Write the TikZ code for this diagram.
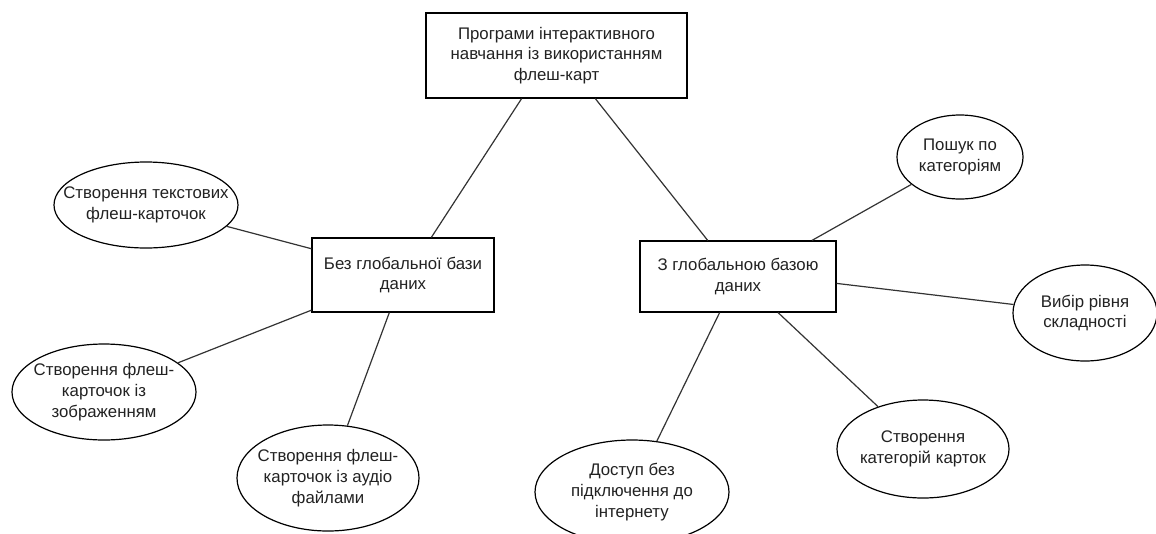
\documentclass[tikz,border=0pt]{standalone}
\usepackage{fontspec}
\setmainfont{Liberation Sans}
\usetikzlibrary{shapes.geometric}
\definecolor{txtc}{HTML}{222222}
\definecolor{linec}{HTML}{333333}
\begin{document}
\begin{tikzpicture}[x=0.75pt,y=-0.75pt,
  txt/.style={align=center, text=txtc, font=\fontsize{12.6}{15.5}\selectfont, inner sep=0pt},
  box/.style={draw=black, line width=0.9pt, rectangle, inner sep=0pt, txt},
  ell/.style={draw=black, line width=0.9pt, ellipse, inner sep=0pt},
  conn/.style={draw=linec, line width=0.9pt}
]
\useasboundingbox (0,0) rectangle (1156,533);
\fill[white] (0,0) rectangle (1156,533);

\node[box, minimum width=195.75pt, minimum height=63.75pt] (top) at (556.5,55.5)
  {Програми інтерактивного\\навчання із використанням\\флеш-карт};
\node[box, minimum width=136.5pt, minimum height=55.5pt] (lb) at (403,275)
  {Без глобальної бази\\даних};
\node[box, minimum width=147pt, minimum height=53.25pt] (rb) at (738,276.5)
  {З глобальною базою\\даних};

\node[ell, minimum width=138pt, minimum height=64.5pt,
  label={[txt]center:Створення текстових\\флеш-карточок}] (e1) at (146,205) {};
\node[ell, minimum width=138pt, minimum height=72pt,
  label={[txt]center:Створення флеш-\\карточок із\\зображенням}] (e2) at (104,392) {};
\node[ell, minimum width=136.5pt, minimum height=79.5pt,
  label={[txt]center:Створення флеш-\\карточок із аудіо\\файлами}] (e3) at (328,478) {};
\node[ell, minimum width=145.5pt, minimum height=78pt,
  label={[txt]center:Доступ без\\підключення до\\інтернету}] (e4) at (632,492) {};
\node[ell, minimum width=129pt, minimum height=73.5pt,
  label={[txt]center:Створення\\категорій карток}] (e5) at (923,449) {};
\node[ell, minimum width=108pt, minimum height=72pt,
  label={[txt]center:Вибір рівня\\складності}] (e6) at (1085,313) {};
\node[ell, minimum width=94.5pt, minimum height=63pt,
  label={[txt]center:Пошук по\\категоріям}] (e7) at (960,157) {};

\draw[conn] (top.231.3) -- (lb.53.9);
\draw[conn] (top.312.5) -- (rb.130.2);
\draw[conn] (lb.164.6) -- (e1);
\draw[conn] (lb.201) -- (e2);
\draw[conn] (lb.250.6) -- (e3);
\draw[conn] (rb.26.2) -- (e7);
\draw[conn] (rb.356.2) -- (e6);
\draw[conn] (rb.243.1) -- (e4);
\draw[conn] (rb.318.4) -- (e5);
\end{tikzpicture}
\end{document}
